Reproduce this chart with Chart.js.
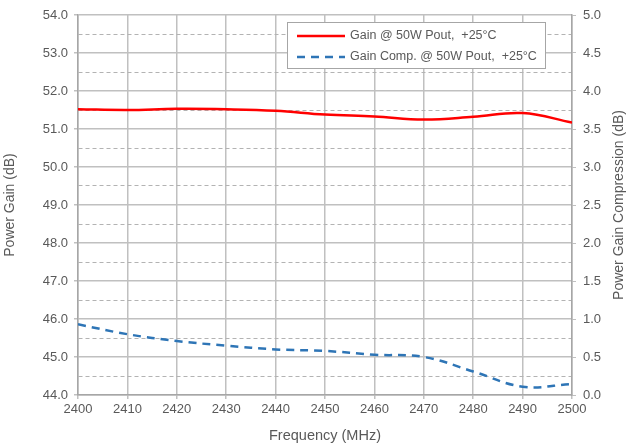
<!DOCTYPE html>
<html>
<head>
<meta charset="utf-8">
<script src="https://cdn.jsdelivr.net/npm/chart.js@4.4.1/dist/chart.umd.min.js"></script>
<style>
  html, body { margin: 0; padding: 0; background: #fff; }
  #wrap { width: 627px; height: 445px; }
</style>
</head>
<body>
<div id="wrap"><canvas id="chart" width="627" height="445"></canvas></div>
<script>
// --- data ---
const freqs = [2400, 2410, 2420, 2430, 2440, 2450, 2460, 2470, 2480, 2490, 2500];
const gain = [51.52, 51.50, 51.53, 51.52, 51.48, 51.38, 51.33, 51.25, 51.32, 51.42, 51.17];
const gainComp = [0.93, 0.80, 0.71, 0.65, 0.60, 0.58, 0.53, 0.50, 0.31, 0.11, 0.145];
const gainLabel = 'Gain @ 50W Pout,  +25°C';
const compLabel = 'Gain Comp. @ 50W Pout,  +25°C';

const TXT = '#595959';
const GRID = '#c0c0c0';
const FONT = "'Liberation Sans', Arial, sans-serif";

// legend box drawn inside the plot, top right
const boxLegend = {
    id: 'boxLegend',
    afterDraw(chart) {
        const ctx = chart.ctx;
        const x = 287, y = 22, w = 258, h = 46;
        ctx.save();
        ctx.fillStyle = '#fff';
        ctx.fillRect(x, y, w, h);
        ctx.strokeStyle = '#a6a6a6';
        ctx.lineWidth = 1;
        ctx.strokeRect(x + 0.5, y + 0.5, w, h);
        ctx.font = '12.5px ' + FONT;
        ctx.fillStyle = TXT;
        ctx.textBaseline = 'middle';
        chart.data.datasets.forEach((ds, i) => {
            const ly = y + 14 + i * 21;
            ctx.strokeStyle = ds.borderColor;
            ctx.lineWidth = 2.5;
            ctx.setLineDash(ds.borderDash || []);
            ctx.beginPath();
            ctx.moveTo(x + 10, ly);
            ctx.lineTo(x + 58, ly);
            ctx.stroke();
            ctx.setLineDash([]);
            ctx.fillText(ds.label, x + 63, ly);
        });
        ctx.restore();
    }
};

// right title reads bottom-to-top like the left one
const rightTitle = {
    id: 'rightTitle',
    afterDraw(chart) {
        const ctx = chart.ctx;
        const area = chart.chartArea;
        ctx.save();
        ctx.translate(619, (area.top + area.bottom) / 2);
        ctx.rotate(-Math.PI / 2);
        ctx.font = '14px ' + FONT;
        ctx.fillStyle = TXT;
        ctx.textAlign = 'center';
        ctx.textBaseline = 'middle';
        ctx.fillText('Power Gain Compression (dB)', 0, 0);
        ctx.restore();
    }
};

new Chart(document.getElementById('chart'), {
    type: 'line',
    data: {
        datasets: [{
            label: gainLabel,
            data: freqs.map((f, i) => ({ x: f, y: gain[i] })),
            yAxisID: 'y',
            borderColor: '#ff0000',
            borderWidth: 2.5,
            pointRadius: 0,
            tension: 0.4,
            fill: false
        }, {
            label: compLabel,
            data: freqs.map((f, i) => ({ x: f, y: gainComp[i] })),
            yAxisID: 'y2',
            borderColor: '#2e75b6',
            borderWidth: 2.5,
            borderDash: [8, 6],
            pointRadius: 0,
            tension: 0.4,
            fill: false
        }]
    },
    options: {
        responsive: false,
        animation: false,
        layout: { padding: { top: 15, left: 0, right: 0, bottom: 0 } },
        plugins: { legend: { display: false }, tooltip: { enabled: false } },
        scales: {
            x: {
                type: 'linear',
                min: 2400, max: 2500,
                afterFit: s => { s.height = 50; },
                ticks: {
                    stepSize: 10, color: TXT, font: { size: 13, family: FONT }, padding: 3, maxRotation: 0,
                    callback: v => String(v)
                },
                grid: { color: GRID, lineWidth: 1.5, tickLength: 4 },
                border: { color: '#a6a6a6', width: 1.5 },
                title: { display: true, text: 'Frequency (MHz)', color: TXT, font: { size: 14.5, family: FONT }, padding: 0 }
            },
            y: {
                position: 'left',
                min: 44, max: 54,
                afterFit: s => { s.width = 78; },
                ticks: {
                    stepSize: 0.5, autoSkip: false, color: TXT, padding: 6,
                    font: { size: 13, family: FONT },
                    callback: v => (v % 1 === 0 ? v.toFixed(1) : '')
                },
                grid: {
                    color: c => (c.tick && c.tick.value % 1 === 0 ? GRID : '#b3b3b3'),
                    lineWidth: c => (c.tick && c.tick.value % 1 === 0 ? 1.5 : 1),
                    tickColor: c => (c.tick && c.tick.value % 1 === 0 ? GRID : 'transparent'),
                    tickLength: 4
                },
                border: {
                    color: '#a6a6a6', width: 1.5,
                    dash: c => (c.tick && c.tick.value % 1 === 0 ? [] : [4, 3])
                },
                title: { display: true, text: 'Power Gain (dB)', color: TXT, font: { size: 14, family: FONT }, padding: 2 }
            },
            y2: {
                position: 'right',
                min: 0, max: 5,
                afterFit: s => { s.width = 55; },
                ticks: {
                    stepSize: 0.5, autoSkip: false, color: TXT, padding: 7,
                    font: { size: 13, family: FONT },
                    callback: v => v.toFixed(1)
                },
                grid: { drawOnChartArea: false, color: GRID, tickLength: 4 },
                border: { color: '#a6a6a6', width: 1.5 }
            }
        }
    },
    plugins: [boxLegend, rightTitle]
});
</script>
</body>
</html>
